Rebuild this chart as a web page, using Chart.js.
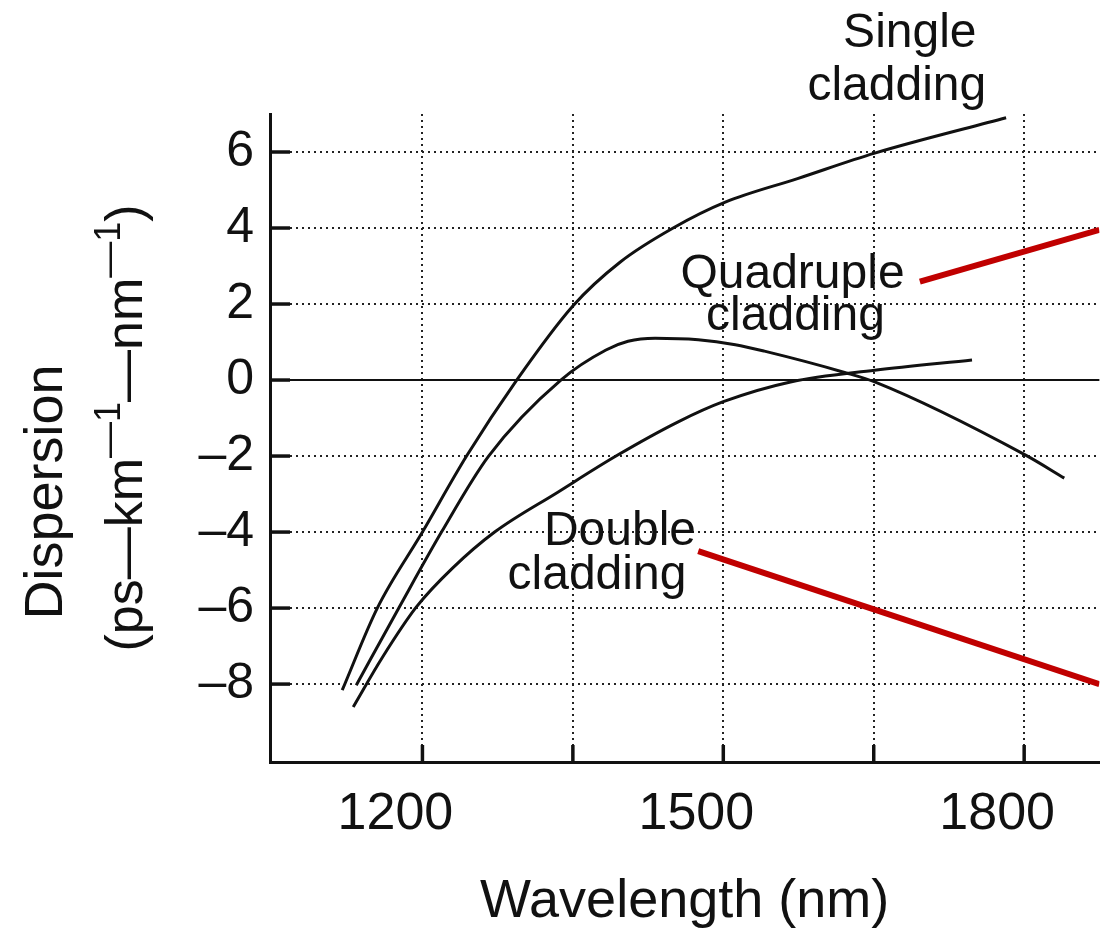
<!DOCTYPE html>
<html><head><meta charset="utf-8">
<script src="https://cdn.jsdelivr.net/npm/chart.js@4.4.1/dist/chart.umd.min.js"></script>
<style>html,body{margin:0;padding:0;background:#fff;overflow:hidden}#wrap{width:1103px;height:935px;position:relative}</style>
</head><body><div id="wrap"><canvas id="c" width="1103" height="935"></canvas></div>
<script>
// ---- data (wavelength nm, dispersion ps/km/nm) ----
const singleWavelength = [1120,1155,1200,1244,1294,1350,1397,1450,1502,1574,1651,1782];
const singleDispersion = [-8.16,-6.0,-4.0,-2.0,0,1.95,3.1,4.0,4.68,5.3,5.97,6.9];
const quadWavelength = [1134,1177,1219,1266,1338,1383,1405,1432,1475,1512,1541,1621,1651,1801,1840];
const quadDispersion = [-8.03,-5.97,-4.0,-2.0,0,0.79,1.02,1.1,1.06,0.93,0.76,0.2,-0.05,-1.97,-2.58];
const doubleWavelength = [1131,1160,1194,1230,1272,1335,1393,1455,1500,1567,1651,1748];
const doubleDispersion = [-8.6,-7.3,-5.97,-4.95,-4.0,-2.95,-2.0,-1.1,-0.57,-0.05,0.26,0.53];
// red leader lines (annotation arrows leaving the frame)
const leaderQuadWavelength = [1696,1875];
const leaderQuadDispersion = [2.59,3.95];
const leaderDoubleWavelength = [1475,1875];
const leaderDoubleDispersion = [-4.5,-8.0];
// ticks
const xTickValues = [1200,1350,1500,1650,1800];
const xTickLabels = ['1200','','1500','','1800'];
const yTickValues = [-8,-6,-4,-2,0,2,4,6];
const yTickLabels = ['–8','–6','–4','–2','0','2','4','6'];
// texts
const xTitle = 'Wavelength (nm)';
const yTitleLine1 = 'Dispersion';
const yTitleLine2 = [['(ps—km',false],['—1',true],['—nm',false],['—1',true],[')',false]];
const labelTexts = ['Single','cladding','Quadruple','cladding','Double','cladding'];
const labelWavelength = [1686,1673,1569,1572,1397,1374];
const labelDispersion = [8.76,7.37,2.42,1.32,-4.34,-5.5];

const FONT = "'Liberation Sans', Arial, sans-serif";
const pts = (xs, ys) => xs.map((x,i)=>({x:x, y:ys[i]}));
const curve = (d) => ({data:d, borderColor:'#111', borderWidth:3, pointRadius:0, fill:false, cubicInterpolationMode:'monotone'});
const leader = (d) => ({data:d, borderColor:'#c00000', borderWidth:6, pointRadius:0, fill:false, tension:0});

const decor = {
  id:'decor',
  beforeDatasetsDraw(chart){
    const {ctx, chartArea:a, scales:{x,y}} = chart;
    ctx.save();
    ctx.strokeStyle='#111'; ctx.lineWidth=2;
    const y0 = y.getPixelForValue(0);
    ctx.beginPath(); ctx.moveTo(a.left,y0); ctx.lineTo(a.right,y0); ctx.stroke();
    ctx.restore();
  },
  afterDraw(chart){
    const {ctx, chartArea:a, scales:{x,y}} = chart;
    ctx.save();
    ctx.strokeStyle='#111'; ctx.lineWidth=3.5;
    yTickValues.forEach(v=>{const p=y.getPixelForValue(v); ctx.beginPath(); ctx.moveTo(a.left,p); ctx.lineTo(a.left+20,p); ctx.stroke();});
    xTickValues.forEach(v=>{const p=x.getPixelForValue(v); ctx.beginPath(); ctx.moveTo(p,a.bottom); ctx.lineTo(p,a.bottom-17); ctx.stroke();});
    // annotation labels
    ctx.fillStyle='#111'; ctx.font='48px '+FONT; ctx.textAlign='center'; ctx.textBaseline='alphabetic';
    labelTexts.forEach((t,i)=>{ctx.fillText(t, x.getPixelForValue(labelWavelength[i]), y.getPixelForValue(labelDispersion[i]));});
    // y-axis title
    ctx.save();
    ctx.translate(62, 492); ctx.rotate(-Math.PI/2);
    ctx.font='54px '+FONT; ctx.textAlign='center'; ctx.fillText(yTitleLine1,0,0);
    ctx.restore();
    ctx.save();
    ctx.translate(142, 428); ctx.rotate(-Math.PI/2);
    let total=0;
    yTitleLine2.forEach(([s,sup])=>{ctx.font=(sup?'36px ':'52px ')+FONT; total+=ctx.measureText(s).width;});
    let cx=-total/2;
    ctx.textAlign='left';
    yTitleLine2.forEach(([s,sup])=>{ctx.font=(sup?'36px ':'52px ')+FONT; ctx.fillText(s,cx,sup?-22:0); cx+=ctx.measureText(s).width;});
    ctx.restore();
    ctx.restore();
  }
};

new Chart(document.getElementById('c'), {
  type:'line',
  data:{datasets:[
    curve(pts(singleWavelength,singleDispersion)),
    curve(pts(quadWavelength,quadDispersion)),
    curve(pts(doubleWavelength,doubleDispersion)),
    leader(pts(leaderQuadWavelength,leaderQuadDispersion)),
    leader(pts(leaderDoubleWavelength,leaderDoubleDispersion))
  ]},
  options:{
    responsive:false, animation:false, devicePixelRatio:1,
    layout:{padding:{top:114,right:0,bottom:0,left:0}},
    plugins:{legend:{display:false}, tooltip:{enabled:false}},
    scales:{
      x:{type:'linear', min:1048, max:1875,
        afterBuildTicks:s=>{s.ticks=xTickValues.map(v=>({value:v}));},
        afterFit:s=>{s.height=173;},
        ticks:{callback:(v)=>xTickLabels[xTickValues.indexOf(v)], autoSkip:false, maxRotation:0, padding:21, labelOffset:-27, color:'#111', font:{family:FONT, size:52}},
        grid:{color:'#222', lineWidth:2, drawTicks:false},
        border:{display:true, color:'#111', width:3, dash:[2,4]},
        title:{display:true, text:xTitle, color:'#111', font:{family:FONT, size:54}, padding:{top:0,bottom:0}}
      },
      y:{type:'linear', min:-10.05, max:7.0,
        afterBuildTicks:s=>{s.ticks=yTickValues.map(v=>({value:v}));},
        afterFit:s=>{s.width=270;},
        ticks:{callback:(v)=>yTickLabels[yTickValues.indexOf(v)], autoSkip:false, padding:16, color:'#111', font:{family:FONT, size:50}},
        grid:{color:'#222', lineWidth:2, drawTicks:false},
        border:{display:true, color:'#111', width:3, dash:[2,4]}
      }
    }
  },
  plugins:[decor]
});
</script></body></html>
